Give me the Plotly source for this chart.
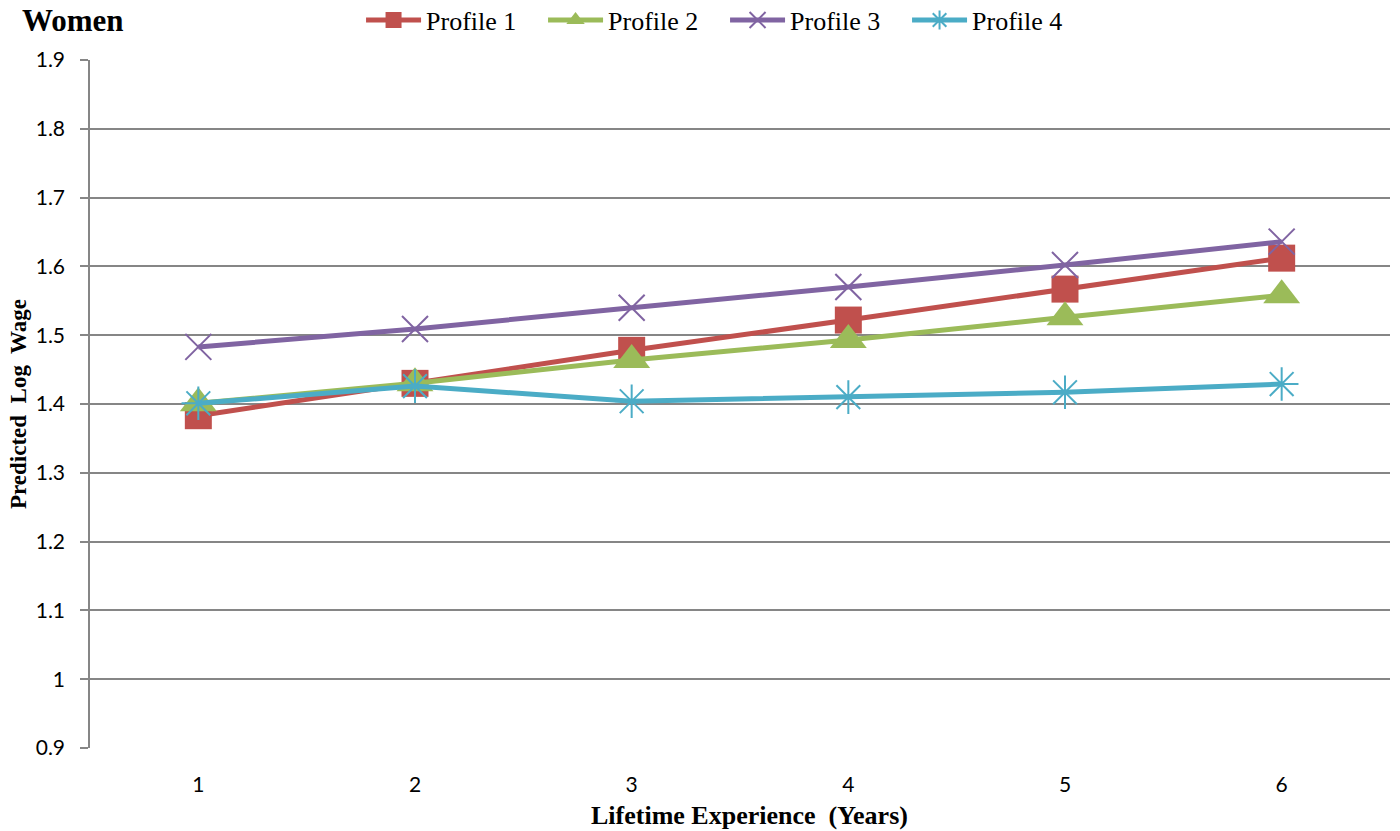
import plotly.graph_objects as go

years = [1, 2, 3, 4, 5, 6]
tick_labels = ["1", "2", "3", "4", "5", "6"]
profile1 = [1.383, 1.430, 1.478, 1.522, 1.567, 1.612]
profile2 = [1.401, 1.430, 1.464, 1.493, 1.526, 1.558]
profile3 = [1.483, 1.509, 1.540, 1.570, 1.602, 1.636]
profile4 = [1.401, 1.426, 1.404, 1.410, 1.417, 1.429]

series = [
    ("Profile 1", profile1, "#C0504D", "square", 27, None),
    ("Profile 2", profile2, "#9BBB59", "triangle-up", 32, None),
    ("Profile 3", profile3, "#8064A2", "x-thin-open", 26, 2),
    ("Profile 4", profile4, "#4BACC6", "asterisk-open", 28, 2),
]

fig = go.Figure()
for name, vals, color, sym, size, mlw in series:
    marker = dict(symbol=sym, size=size, color=color)
    if mlw:
        marker["line"] = dict(color=color, width=mlw)
    else:
        marker["line"] = dict(width=0)
    fig.add_trace(go.Scatter(
        x=years, y=vals, name=name, mode="lines+markers",
        line=dict(color=color, width=5), marker=marker,
    ))

fig.update_layout(
    width=1400, height=831,
    paper_bgcolor="white", plot_bgcolor="white",
    margin=dict(l=90, r=10, t=60, b=83, autoexpand=False),
    title=dict(text="<b>Women</b>", x=0.0157, xanchor="left", y=0.976, yanchor="middle",
               font=dict(family="Liberation Serif", size=31, color="black")),
    legend=dict(orientation="h", x=0.2085, xanchor="left", y=1.058, yanchor="middle",
                font=dict(family="Liberation Serif", size=26, color="black"),
                bgcolor="rgba(0,0,0,0)", itemwidth=55, entrywidth=112,
                entrywidthmode="pixels", tracegroupgap=0),
    showlegend=True,
    annotations=[dict(text="<b>Lifetime Experience  (Years)</b>", xref="paper", yref="paper",
                      x=0.507, y=-0.0974, xanchor="center", yanchor="middle", showarrow=False,
                      font=dict(family="Liberation Serif", size=26, color="black"))],
)
fig.update_xaxes(
    range=[0.5, 6.5], tickmode="array", tickvals=years, ticktext=tick_labels,
    showgrid=False, zeroline=False, showline=False, ticks="",
    tickfont=dict(family="Lato", size=21, color="black"), ticklabelstandoff=22,
)
fig.update_yaxes(
    range=[0.9, 1.9], dtick=0.1, tick0=0.9,
    showgrid=True, gridcolor="#868686", gridwidth=1.5,
    showline=True, linecolor="#868686", linewidth=1.5,
    ticks="outside", ticklen=8, tickcolor="#868686", tickwidth=1.5,
    zeroline=False,
    tickfont=dict(family="Lato", size=21, color="black"), ticklabelstandoff=11,
    title=dict(text="<b>Predicted  Log  Wage</b>", standoff=3,
               font=dict(family="Liberation Serif", size=23, color="black")),
)
fig.write_html("out.html", config={"displayModeBar": False},
               post_script="document.body.style.margin='0';")
